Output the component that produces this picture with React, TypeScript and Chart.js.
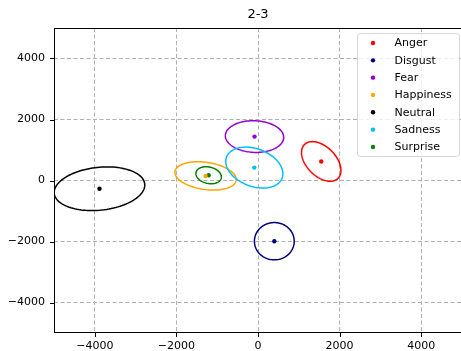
import React, { useEffect, useRef } from "react";
import { Chart, registerables } from "chart.js";

Chart.register(...registerables);

const emotions = ["Anger", "Disgust", "Fear", "Happiness", "Neutral", "Sadness", "Surprise"];
const colors = ["#ff0000", "#000080", "#9400d3", "#ffa500", "#000000", "#00bfff", "#008000"];
const meanX = [1550, 400, -85, -1285, -3885, -90, -1210];
const meanY = [625, -1990, 1440, 150, -270, 423, 172];
// ellipse half-extents along x / y (data units) and correlation (tilt)
const spreadX = [483, 488, 715, 752, 1110, 700, 312];
const spreadY = [650, 612, 519, 464, 716, 672, 279];
const rho = [-0.45, 0, -0.05, -0.25, 0.17, -0.3, -0.2];
const tickValues = [-4000, -2000, 0, 2000, 4000];
const titleText = "2-3";

const FONT = "'DejaVu Sans', sans-serif";

const fmt = (v: number) => (v < 0 ? "\u2212" + Math.abs(v) : String(v));

const overlayPlugin = {
  id: "overlay",
  beforeDatasetsDraw(chart: any) {
    const { ctx, chartArea, scales } = chart;
    const xs = scales.x;
    const ys = scales.y;
    ctx.save();
    ctx.beginPath();
    ctx.rect(chartArea.left, chartArea.top, chartArea.right - chartArea.left, chartArea.bottom - chartArea.top);
    ctx.clip();
    for (let i = 0; i < emotions.length; i++) {
      const r = rho[i];
      const s = Math.sqrt(1 - r * r);
      ctx.beginPath();
      const N = 120;
      for (let k = 0; k <= N; k++) {
        const t = (k / N) * Math.PI * 2;
        const dx = meanX[i] + spreadX[i] * Math.cos(t);
        const dy = meanY[i] + spreadY[i] * (r * Math.cos(t) + s * Math.sin(t));
        const px = xs.getPixelForValue(dx);
        const py = ys.getPixelForValue(dy);
        if (k === 0) ctx.moveTo(px, py);
        else ctx.lineTo(px, py);
      }
      ctx.closePath();
      ctx.strokeStyle = colors[i];
      ctx.lineWidth = 1.5;
      ctx.stroke();
    }
    ctx.restore();
  },
  afterDraw(chart: any) {
    const { ctx, chartArea, scales } = chart;
    ctx.save();
    // frame
    ctx.strokeStyle = "#000";
    ctx.lineWidth = 1;
    ctx.strokeRect(chartArea.left + 0.5, chartArea.top + 0.5, chartArea.right - chartArea.left - 1, chartArea.bottom - chartArea.top - 1);
    // tick marks
    ctx.beginPath();
    for (const v of tickValues) {
      const px = Math.round(scales.x.getPixelForValue(v)) + 0.5;
      ctx.moveTo(px, chartArea.bottom);
      ctx.lineTo(px, chartArea.bottom + 4);
      const py = Math.round(scales.y.getPixelForValue(v)) + 0.5;
      ctx.moveTo(chartArea.left, py);
      ctx.lineTo(chartArea.left - 4, py);
    }
    ctx.stroke();
    // title
    ctx.fillStyle = "#000";
    ctx.font = `13px ${FONT}`;
    ctx.textAlign = "center";
    ctx.textBaseline = "middle";
    ctx.fillText(titleText, (chartArea.left + chartArea.right) / 2, 14.5);
    // legend
    const lx = 357.5;
    const ly = 33.5;
    const lw = 102;
    const lh = 123;
    const rr = 3;
    ctx.beginPath();
    ctx.moveTo(lx + rr, ly);
    ctx.lineTo(lx + lw - rr, ly);
    ctx.arcTo(lx + lw, ly, lx + lw, ly + rr, rr);
    ctx.lineTo(lx + lw, ly + lh - rr);
    ctx.arcTo(lx + lw, ly + lh, lx + lw - rr, ly + lh, rr);
    ctx.lineTo(lx + rr, ly + lh);
    ctx.arcTo(lx, ly + lh, lx, ly + lh - rr, rr);
    ctx.lineTo(lx, ly + rr);
    ctx.arcTo(lx, ly, lx + rr, ly, rr);
    ctx.closePath();
    ctx.fillStyle = "rgba(255,255,255,0.8)";
    ctx.fill();
    ctx.strokeStyle = "rgba(204,204,204,0.8)";
    ctx.stroke();
    ctx.font = `11px ${FONT}`;
    ctx.textAlign = "left";
    ctx.textBaseline = "middle";
    for (let i = 0; i < emotions.length; i++) {
      const y = 43 + i * 17.33;
      ctx.beginPath();
      ctx.arc(373, y, 2.2, 0, Math.PI * 2);
      ctx.fillStyle = colors[i];
      ctx.fill();
      ctx.fillStyle = "#000";
      ctx.fillText(emotions[i], 394.5, y + 0.5);
    }
    ctx.restore();
  },
};

export default function App() {
  const ref = useRef<HTMLCanvasElement | null>(null);
  useEffect(() => {
    if (!ref.current) return;
    const tickOpts = {
      color: "#000",
      font: { family: FONT, size: 11 },
      padding: 7,
      maxRotation: 0,
      callback: (v: any) => fmt(Number(v)),
    };
    const chart = new Chart(ref.current, {
      type: "scatter",
      data: {
        datasets: emotions.map((name, i) => ({
          label: name,
          data: [{ x: meanX[i], y: meanY[i] }],
          backgroundColor: colors[i],
          borderColor: colors[i],
          pointRadius: 2.2,
          borderWidth: 0,
        })),
      },
      options: {
        responsive: false,
        animation: false,
        devicePixelRatio: 1,
        layout: { padding: { top: 28, left: 0, right: 2, bottom: 0 } },
        plugins: { legend: { display: false }, title: { display: false }, tooltip: { enabled: false } },
        scales: {
          x: {
            type: "linear",
            min: -5000,
            max: 5000,
            afterBuildTicks: (s: any) => {
              s.ticks = tickValues.map((v) => ({ value: v }));
            },
            afterFit: (s: any) => {
              s.height = 18;
            },
            ticks: tickOpts,
            grid: { color: "#b0b0b0", lineWidth: 1, drawTicks: false },
            border: { display: false, dash: [4, 2.5] },
          },
          y: {
            type: "linear",
            min: -5000,
            max: 5000,
            afterBuildTicks: (s: any) => {
              s.ticks = tickValues.map((v) => ({ value: v }));
            },
            afterFit: (s: any) => {
              s.width = 54;
            },
            ticks: { ...tickOpts, padding: 9 },
            grid: { color: "#b0b0b0", lineWidth: 1, drawTicks: false },
            border: { display: false, dash: [4, 2.5] },
          },
        },
      },
      plugins: [overlayPlugin],
    } as any);
    return () => chart.destroy();
  }, []);
  return (
    <div style={{ position: "fixed", left: 0, top: 0, width: 466, height: 351, background: "#fff" }}>
      <canvas ref={ref} width={466} height={351} style={{ width: 466, height: 351, display: "block" }} />
    </div>
  );
}
